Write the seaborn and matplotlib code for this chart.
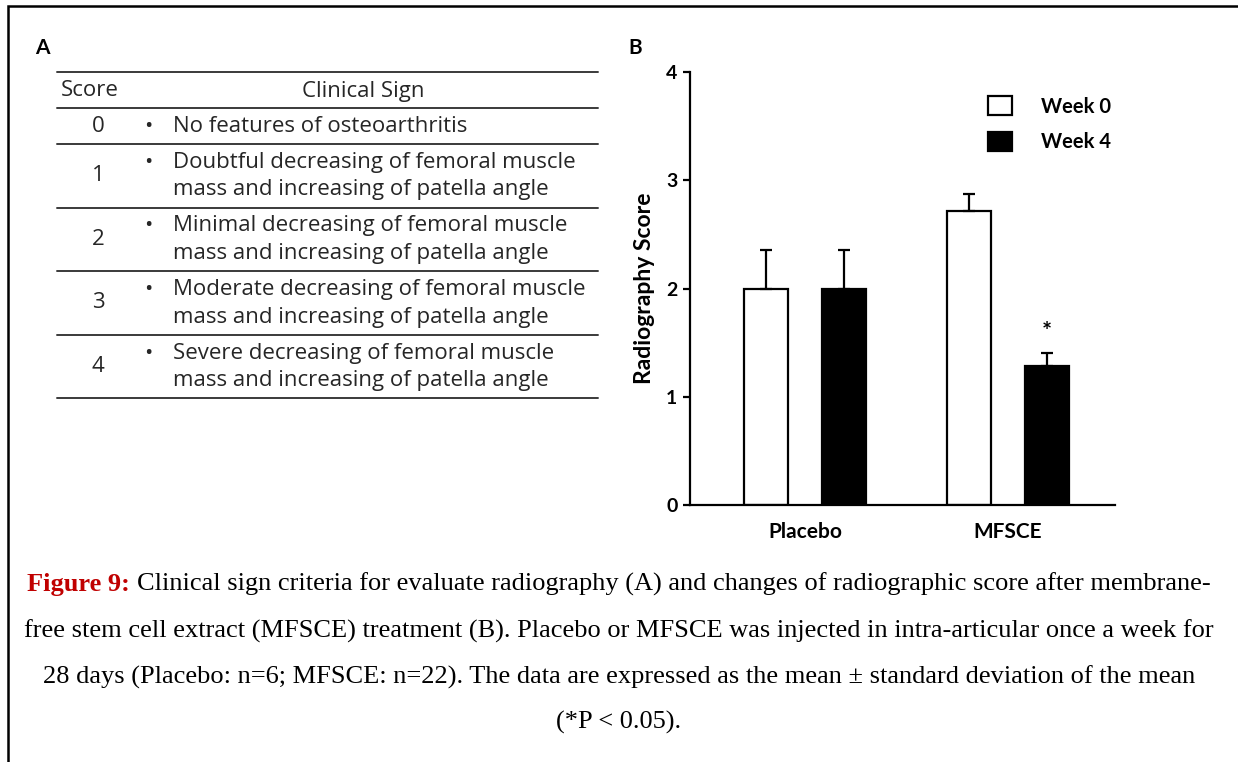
import numpy as np
import pandas as pd
import matplotlib
matplotlib.use('Agg')
import matplotlib.pyplot as plt
import seaborn as sns

# Panel A - scoring criteria table
scores = ['0', '1', '2', '3', '4']
signs = [
    'No features of osteoarthritis',
    'Doubtful decreasing of femoral muscle\nmass and increasing of patella angle',
    'Minimal decreasing of femoral muscle\nmass and increasing of patella angle',
    'Moderate decreasing of femoral muscle\nmass and increasing of patella angle',
    'Severe decreasing of femoral muscle\nmass and increasing of patella angle',
]

# Panel B - radiography score (mean, sd)
groups = ['Placebo', 'MFSCE']
weeks = ['Week 0', 'Week 4']
week0_mean = [2.0, 2.72]
week4_mean = [2.0, 1.28]
week0_err = [0.36, 0.15]
week4_err = [0.36, 0.12]
week0_sig = ['', '']
week4_sig = ['', '*']

# Caption
caption_head = 'Figure 9: '
caption_lines = [
    'Clinical sign criteria for evaluate radiography (A) and changes of radiographic score after membrane-',
    'free stem cell extract (MFSCE) treatment (B). Placebo or MFSCE was injected in intra-articular once a week for',
    '28 days (Placebo: n=6; MFSCE: n=22). The data are expressed as the mean \u00b1 standard deviation of the mean',
    '(*P < 0.05).',
]

sns.set_style('ticks', {'axes.edgecolor': 'black', 'axes.labelcolor': 'black',
                        'xtick.color': 'black', 'ytick.color': 'black',
                        'text.color': 'black'})
plt.rcParams['font.family'] = ['Lato', 'DejaVu Sans']

W, H = 1238, 762
fig = plt.figure(figsize=(W / 100, H / 100), dpi=100)

# background axes in pixel units for the table, labels and caption
bg = fig.add_axes([0, 0, 1, 1])
bg.set_xlim(0, W)
bg.set_ylim(H, 0)
bg.axis('off')

# frame (top + left only)
bg.plot([8, 8, W], [H, 6, 6], color='black', lw=1.8, solid_joinstyle='miter')

# panel letters
bg.text(42, 48, 'A', fontsize=15, weight='bold', ha='center', va='center')
bg.text(635, 48, 'B', fontsize=15, weight='bold', ha='center', va='center')

# ---- table ----
tab_font = dict(family='Open Sans', size=16, color='#262626')
line_kw = dict(color='#3a3a3a', lw=1.4)
tab_l, tab_r = 57, 598
pitch = 27.5
y = 72
bg.plot([tab_l, tab_r], [y, y], **line_kw)
bg.text(90, y + 19, 'Score', ha='center', va='center', **tab_font)
bg.text(363, y + 19, 'Clinical Sign', ha='center', va='center', **tab_font)
y += 36
bg.plot([tab_l, tab_r], [y, y], **line_kw)
for s, t in zip(scores, signs):
    rows = t.split('\n')
    n = len(rows)
    h = 36 + pitch * (n - 1)
    yc = y + h / 2
    base = yc - pitch * (n - 1) / 2 + 6
    bg.text(98, yc, s, ha='center', va='center', **tab_font)
    bg.text(148, base, '\u2022', ha='center', va='baseline', **tab_font)
    for i, r in enumerate(rows):
        bg.text(173, base + i * pitch, r, ha='left', va='baseline', **tab_font)
    y += h
    bg.plot([tab_l, tab_r], [y, y], **line_kw)

# ---- caption ----
cap_font = dict(family='Liberation Serif', size=19)
cap_y = [584, 631, 677, 722]
renderer = fig.canvas.get_renderer()
t_head = bg.text(0, cap_y[0], caption_head, color='#c00000', weight='bold',
                 ha='left', va='center', **cap_font)
t_rest = bg.text(0, cap_y[0], caption_lines[0], ha='left', va='center', **cap_font)
w1 = t_head.get_window_extent(renderer).width
w2 = t_rest.get_window_extent(renderer).width
x0 = W / 2 - (w1 + w2) / 2
t_head.set_x(x0)
t_rest.set_x(x0 + w1)
for line, yy in zip(caption_lines[1:], cap_y[1:]):
    bg.text(W / 2, yy, line, ha='center', va='center', **cap_font)

# ---- bar chart ----
df = pd.DataFrame({
    'group': groups * 2,
    'week': [weeks[0]] * len(groups) + [weeks[1]] * len(groups),
    'score': week0_mean + week4_mean,
})

ax = fig.add_axes([690 / W, 1 - 505 / H, (1115 - 690) / W, (505 - 72) / H])
sns.barplot(data=df, x='group', y='score', hue='week', order=groups, hue_order=weeks,
            palette=['white', 'black'], saturation=1, edgecolor='black', linewidth=1.6,
            width=0.768, gap=0.435, errorbar=None, ax=ax)

bar_sets = list(ax.containers)
for cont, errs, sigs in zip(bar_sets, [week0_err, week4_err], [week0_sig, week4_sig]):
    for bar, e, s in zip(cont, errs, sigs):
        xc = bar.get_x() + bar.get_width() / 2
        top = bar.get_height()
        ax.errorbar(xc, top, yerr=[[0], [e]], fmt='none', ecolor='black',
                    elinewidth=1.6, capsize=4.5, capthick=1.6)
        if s:
            ax.text(xc, top + e + 0.19, s, ha='center', va='center',
                    fontsize=17, weight='bold')

ax.set_ylim(0, 4)
ax.set_yticks([0, 1, 2, 3, 4])
ax.set_xlim(-0.567, 1.527)
sns.despine(ax=ax)
for side in ['left', 'bottom']:
    ax.spines[side].set_linewidth(1.6)
ax.tick_params(axis='x', length=0, pad=12, labelsize=15)
ax.tick_params(axis='y', length=5, width=1.6, pad=4, labelsize=14)
for lbl in ax.get_xticklabels() + ax.get_yticklabels():
    lbl.set_fontweight('bold')
ax.set_xlabel('')
ax.set_ylabel('Radiography Score', fontsize=16.5, weight='bold', labelpad=8)

handles, labels = ax.get_legend_handles_labels()
leg = ax.legend(handles, labels, loc='upper left', bbox_to_anchor=(988 / W, 1 - 96 / H),
                bbox_transform=fig.transFigure, frameon=False, borderpad=0, borderaxespad=0,
                handlelength=1.2, handleheight=1.1, handletextpad=1.45, labelspacing=0.75,
                prop={'family': 'Lato', 'weight': 'bold', 'size': 14.5})
for hnd in leg.legend_handles:
    hnd.set_edgecolor('black')
    hnd.set_linewidth(1.6)

fig.savefig('out.png', dpi=100)
